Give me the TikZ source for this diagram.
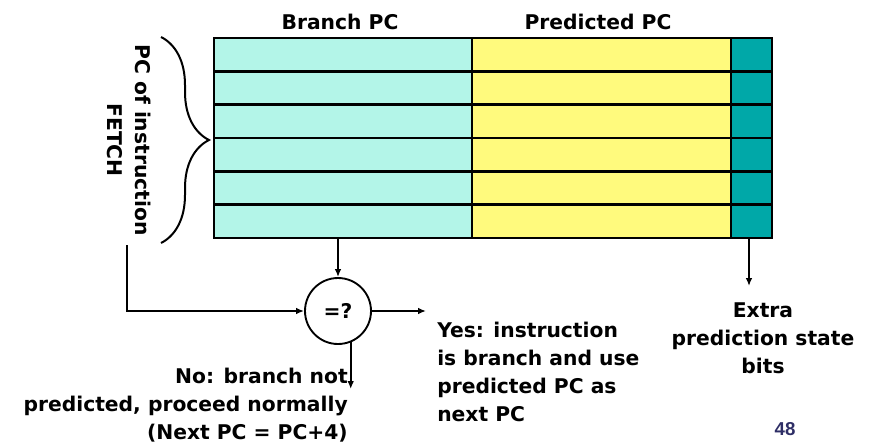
\documentclass[tikz,border=0pt]{standalone}
\usepackage{fontspec}
\setmainfont{DejaVu Sans}
\newfontfamily\numfont{Liberation Sans}
\usetikzlibrary{arrows.meta,decorations.pathreplacing}
\definecolor{bpc}{HTML}{B3F5E8}
\definecolor{ppc}{HTML}{FFFA7D}
\definecolor{xbits}{HTML}{00A8A8}
\definecolor{pagenum}{HTML}{2E2E66}

\begin{document}
\begin{tikzpicture}[x=0.75pt,y=-0.75pt,
    lbl/.style={font=\bfseries\fontsize{15.2}{21}\selectfont, inner sep=0pt},
    tbl/.style={line width=1.8pt, line cap=rect},
    arr/.style={-{Latex[length=6pt,width=5pt]}, line width=1.4pt}]
    \useasboundingbox (0,0) rectangle (877,443);
    % table of entries
    \fill[bpc] (214,38) rectangle (472,238);
    \fill[ppc] (472,38) rectangle (731,238);
    \fill[xbits] (731,38) rectangle (772,238);
    \foreach \i in {0,...,6}
        \draw[tbl] (214,{38+33.33*\i}) -- (772,{38+33.33*\i});
    \foreach \x in {214,472,731,772}
        \draw[tbl] (\x,38) -- (\x,238);
    \coordinate (bpcout) at (338,238);
    \coordinate (xout) at (749,238);
    % column headings
    \node[lbl] (bpclbl) at (340,22) {Branch PC};
    \node[lbl] (ppclbl) at (598,22) {Predicted PC};
    % fetch PC
    \draw[decorate, decoration={brace, amplitude=36pt}, line width=1.5pt] (161,37) -- (161,243);
    \node[lbl, rotate=-90, align=center] (fetchlbl) at (129,140) {PC of instruction\\FETCH};
    \coordinate (fetch) at (127,245);
    % compare
    \node[lbl, circle, draw, line width=1.4pt, minimum size=49.5pt] (cmp) at (338,311) {=?};
    \draw[arr] (bpcout) -- (cmp.north);
    \draw[arr] (fetch) |- (cmp.west);
    \coordinate (yes) at (426,311);
    \draw[arr] (cmp.east) -- (yes);
    \coordinate (no) at (350,389);
    \draw[arr] (cmp.-68) -- (cmp.-68 |- no);
    \coordinate (xend) at (749,286);
    \draw[arr] (xout) -- (xend);
    % outcomes
    \node[lbl, align=right, anchor=north east] (nolbl) at (348,368)
        {No: branch not\\predicted, proceed normally\\(Next PC = PC+4)};
    \node[lbl, align=left, anchor=north west] (yeslbl) at (437,322)
        {Yes: instruction\\is branch and use\\predicted PC as\\next PC};
    \node[lbl, align=center, anchor=north] (xlbl) at (763,302)
        {Extra\\prediction state\\bits};
    \node[font=\numfont\bfseries\fontsize{14}{16}\selectfont, text=pagenum, inner sep=0pt] (pnum) at (785,429) {48};
\end{tikzpicture}
\end{document}
